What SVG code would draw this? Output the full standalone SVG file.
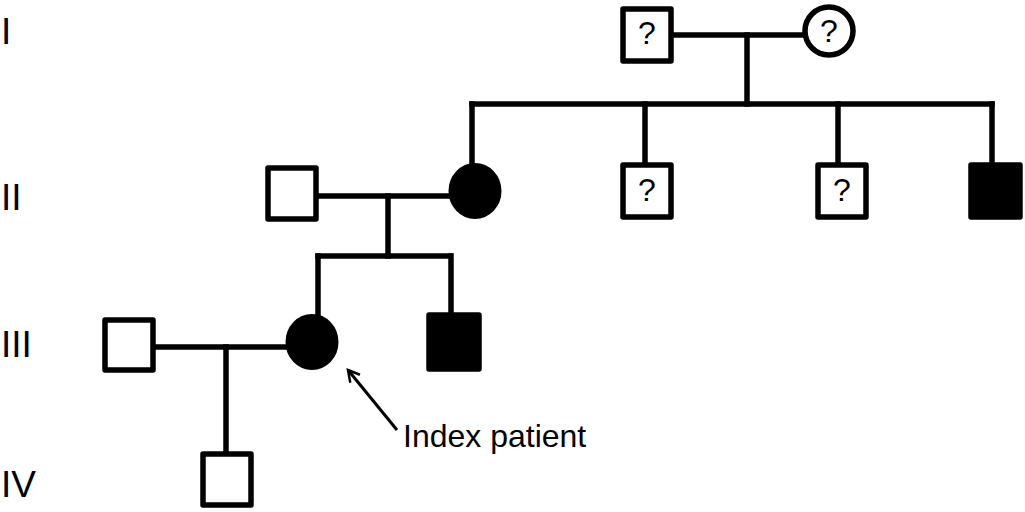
<svg xmlns="http://www.w3.org/2000/svg" width="1025" height="512" viewBox="0 0 1025 512">
<style>
.ln{stroke:#000;stroke-width:5.5;fill:none;stroke-linecap:square}
.sq{stroke:#000;stroke-width:5.5;fill:#fff;stroke-linejoin:round}
.sqf{stroke:#000;stroke-width:5.5;fill:#000;stroke-linejoin:round}
.ci{stroke:#000;stroke-width:5.5;fill:#fff}
.cif{stroke:#000;stroke-width:2;fill:#000}
.q{font-family:"Liberation Sans",Arial,sans-serif;font-size:32px;text-anchor:middle;fill:#000}
.gen{font-family:"Liberation Sans",Arial,sans-serif;font-size:37px;fill:#000}
.lbl{font-family:"Liberation Sans",Arial,sans-serif;font-size:32px;fill:#000}
</style>
<defs>
<marker id="ah" viewBox="0 0 12 12" refX="10" refY="6" markerWidth="5" markerHeight="5" orient="auto" markerUnits="strokeWidth">
<path d="M1,1 L10,6 L1,11" fill="none" stroke="#000" stroke-width="2"/>
</marker>
</defs>
<rect width="1025" height="512" fill="#fff"/>
<g id="generations">
<text class="gen" x="1" y="44">I</text>
<text class="gen" x="1" y="210">II</text>
<text class="gen" x="1" y="357">III</text>
<text class="gen" x="1" y="497">IV</text>
</g>
<g id="connectors">
<line class="ln" x1="672" y1="35" x2="804" y2="35"/>
<line class="ln" x1="747" y1="35" x2="747" y2="104"/>
<line class="ln" x1="472" y1="104" x2="992" y2="104"/>
<line class="ln" x1="472" y1="104" x2="472" y2="163"/>
<line class="ln" x1="645" y1="104" x2="645" y2="163"/>
<line class="ln" x1="838" y1="104" x2="838" y2="163"/>
<line class="ln" x1="992" y1="104" x2="992" y2="163"/>
<line class="ln" x1="317" y1="196" x2="450" y2="196"/>
<line class="ln" x1="388" y1="196" x2="388" y2="256"/>
<line class="ln" x1="318" y1="256" x2="450" y2="256"/>
<line class="ln" x1="318" y1="256" x2="318" y2="315"/>
<line class="ln" x1="451" y1="256" x2="451" y2="314"/>
<line class="ln" x1="154" y1="347" x2="287" y2="347"/>
<line class="ln" x1="226" y1="347" x2="226" y2="453"/>
<line x1="397" y1="430" x2="348" y2="370" stroke="#000" stroke-width="3" marker-end="url(#ah)"/>
</g>
<g id="I-1"><rect class="sq" x="623" y="9" width="48" height="52"/><text class="q" x="647" y="44">?</text></g>
<g id="I-2"><circle class="ci" cx="829" cy="31" r="24"/><text class="q" x="829" y="42">?</text></g>
<g id="II-1"><rect class="sq" x="268" y="168" width="48" height="51"/></g>
<g id="II-2"><ellipse class="cif" cx="475" cy="191" rx="25.5" ry="27"/></g>
<g id="II-3"><rect class="sq" x="623" y="165" width="48" height="52"/><text class="q" x="647" y="201">?</text></g>
<g id="II-4"><rect class="sq" x="818" y="165" width="48" height="52"/><text class="q" x="842" y="201">?</text></g>
<g id="II-5"><rect class="sqf" x="971" y="165" width="49" height="52"/></g>
<g id="III-1"><rect class="sq" x="105" y="320" width="48" height="50"/></g>
<g id="III-2"><ellipse class="cif" cx="312" cy="342" rx="25.5" ry="27"/></g>
<g id="III-3"><rect class="sqf" x="429" y="315" width="50" height="54"/></g>
<g id="IV-1"><rect class="sq" x="203" y="454" width="48" height="51"/></g>
<g id="label"><text class="lbl" x="403" y="447">Index patient</text></g>
</svg>
